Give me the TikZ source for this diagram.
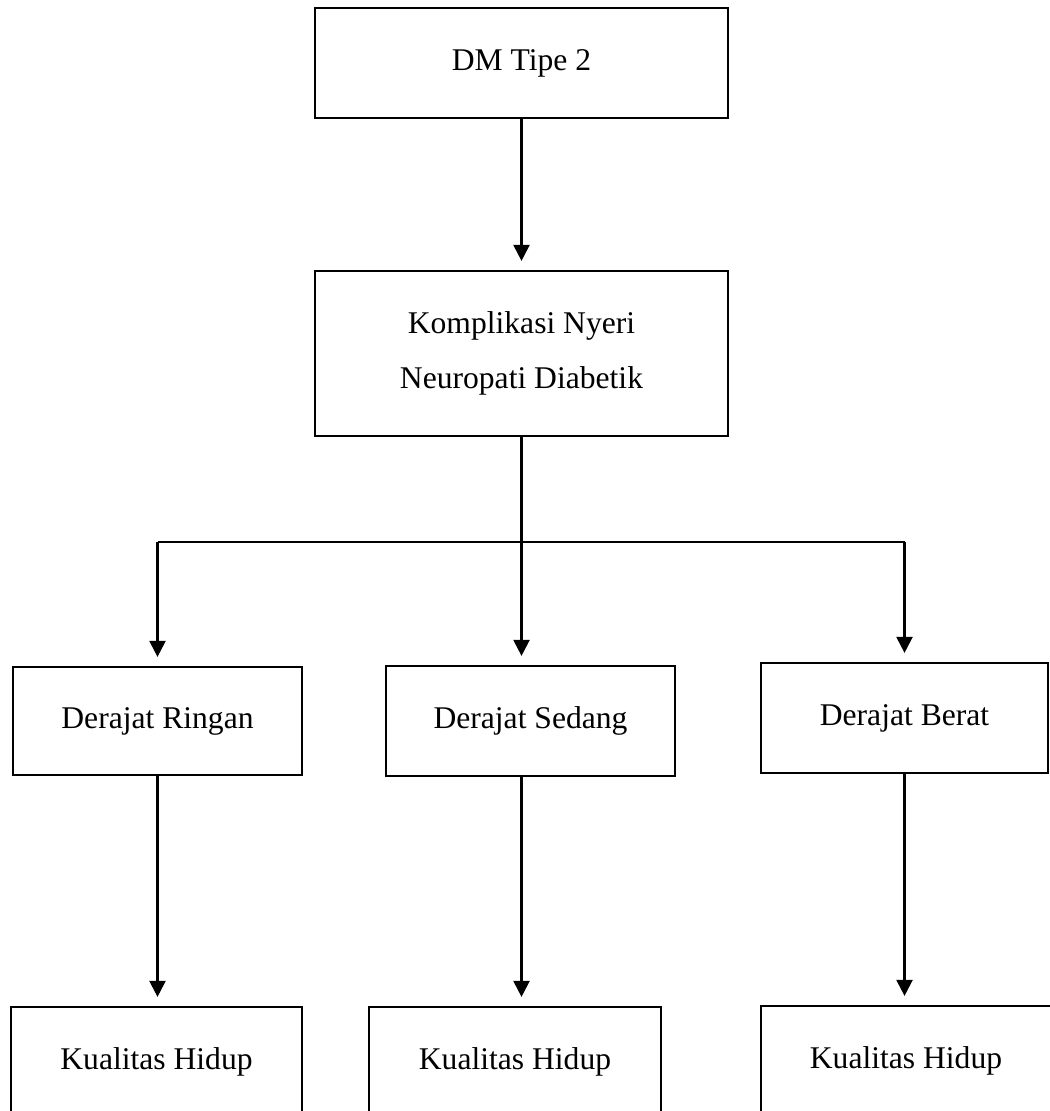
\documentclass[tikz,border=0pt]{standalone}
\usepackage{fontspec}
\setmainfont{Liberation Serif}
\usetikzlibrary{arrows.meta}
\tikzset{
  kotak/.style={draw,line width=1.1pt,rectangle,align=center,inner sep=0pt,
    font=\fontsize{15.8}{27.5}\selectfont},
  panah/.style={line width=1.1pt,-{Triangle[length=8pt,width=8pt]},shorten >=4.5pt}
}
\begin{document}
\begin{tikzpicture}[x=0.5pt,y=-0.5pt]
	\useasboundingbox (0,0) rectangle (1049,1111);
	\node[kotak,minimum width=206.5pt,minimum height=55pt] (dm) at (521.5,63) {DM Tipe 2};
	\node[kotak,minimum width=206.5pt,minimum height=82.5pt] (komp) at (521.5,353.5)
	  {Komplikasi Nyeri\\Neuropati Diabetik};
	\node[kotak,minimum width=144.5pt,minimum height=54pt] (ringan) at (157.5,721) {Derajat Ringan};
	\node[kotak,minimum width=144.5pt,minimum height=55pt] (sedang) at (530.5,721) {Derajat Sedang};
	\node[kotak,minimum width=143.5pt,minimum height=55pt] (berat) at (904.5,718) {Derajat Berat};
	\node[kotak,minimum width=145.5pt,minimum height=55pt] (kual1) at (156.5,1062) {Kualitas Hidup};
	\node[kotak,minimum width=146pt,minimum height=55pt] (kual2) at (515,1062) {Kualitas Hidup};
	\node[kotak,minimum width=145pt,minimum height=55pt] (kual3) at (906,1061) {Kualitas Hidup};
	\coordinate (hub) at (521.5,542);
	\draw[panah] (dm.south) -- (komp.north);
	\draw[line width=1.1pt] (komp.south) -- (hub);
	\draw[line width=1.1pt] (hub -| ringan.north) -- (hub -| berat.north);
	\draw[panah] (hub) -- (hub |- sedang.north);
	\draw[panah] (hub -| ringan.north) -- (ringan.north);
	\draw[panah] (hub -| berat.north) -- (berat.north);
	\draw[panah] (ringan.south) -- (ringan.south |- kual1.north);
	\draw[panah] (sedang.south -| hub) -- (kual2.north -| hub);
	\draw[panah] (berat.south) -- (berat.south |- kual3.north);
\end{tikzpicture}
\end{document}
